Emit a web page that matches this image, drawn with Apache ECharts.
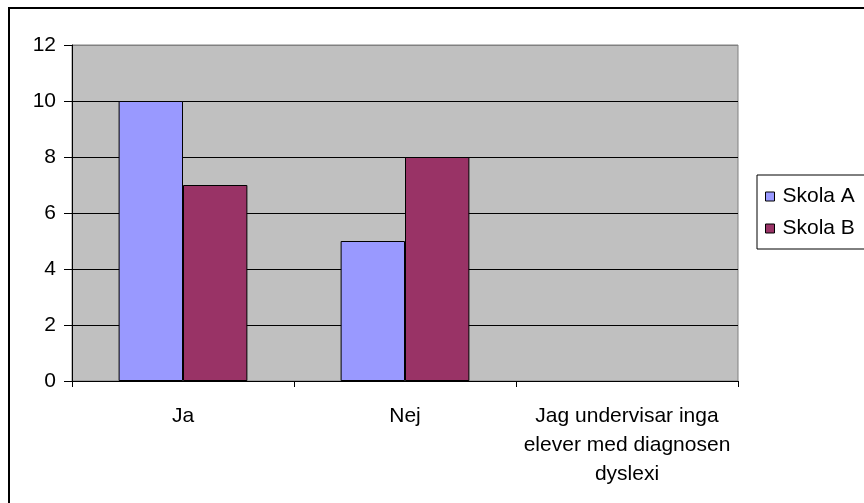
<!DOCTYPE html>
<html>
<head>
<meta charset="utf-8">
<script src="https://cdn.jsdelivr.net/npm/echarts@6/dist/echarts.min.js"></script>
<style>html,body{margin:0;padding:0;background:#fff}#c{width:864px;height:503px}</style>
</head>
<body>
<div id="c"></div>
<script>
var categories = ['Ja', 'Nej', 'Jag undervisar inga\nelever med diagnosen\ndyslexi'];
var seriesNames = ['Skola A', 'Skola B'];
var skolaA = [10, 5, 0];
var skolaB = [7, 8, 0];
var yTicks = {min: 0, max: 12, interval: 2};

function barData(arr) {
  return arr.map(function (v) {
    return v === 0 ? {value: v, itemStyle: {borderWidth: 0}} : v;
  });
}

var chart = echarts.init(document.getElementById('c'), null, {renderer: 'canvas'});
var font = '"Liberation Sans", Arial, sans-serif';
var fs = 21;
chart.setOption({
  animation: false,
  backgroundColor: '#fff',
  textStyle: {fontFamily: font, color: '#000'},
  graphic: [{
    type: 'rect', silent: true, z: 100,
    shape: {x: 9, y: 8, width: 900, height: 600},
    style: {fill: 'none', stroke: '#000', lineWidth: 2}
  }],
  grid: {
    left: 72, right: 126, top: 45, bottom: 122,
    show: true, backgroundColor: '#C0C0C0', borderColor: '#808080', borderWidth: 1
  },
  legend: {
    orient: 'vertical', left: 757, top: 175,
    padding: [11, 40, 10, 8],
    borderColor: '#000', borderWidth: 1,
    itemWidth: 9, itemHeight: 9, itemGap: 11,
    icon: 'rect',
    itemStyle: {borderColor: '#000', borderWidth: 1},
    textStyle: {fontFamily: font, fontSize: fs, color: '#000', padding: [0, 0, 0, 3]},
    data: seriesNames
  },
  xAxis: {
    type: 'category', data: categories,
    axisLine: {lineStyle: {color: '#000', width: 1}},
    axisTick: {show: true, alignWithLabel: false, length: 6, lineStyle: {color: '#000'}},
    axisLabel: {fontFamily: font, fontSize: fs, color: '#000', margin: 21, lineHeight: 29, interval: 0, verticalAlign: 'top'},
    splitLine: {show: false}
  },
  yAxis: {
    type: 'value', min: yTicks.min, max: yTicks.max, interval: yTicks.interval,
    axisLine: {show: true, lineStyle: {color: '#000', width: 1}},
    axisTick: {show: true, length: 8, lineStyle: {color: '#000'}},
    axisLabel: {fontFamily: font, fontSize: fs, color: '#000', margin: 16},
    splitLine: {show: true, lineStyle: {color: ['#000', '#000', '#000', '#000', '#000', '#000', '#808080'], width: 1}}
  },
  series: [{
    name: seriesNames[0], type: 'bar', data: barData(skolaA),
    barGap: '0%', barCategoryGap: '42%',
    itemStyle: {color: '#9999FF', borderColor: '#000', borderWidth: 1}
  }, {
    name: seriesNames[1], type: 'bar', data: barData(skolaB),
    barGap: '0%', barCategoryGap: '42%',
    itemStyle: {color: '#993366', borderColor: '#000', borderWidth: 1}
  }]
});
</script>
</body>
</html>
